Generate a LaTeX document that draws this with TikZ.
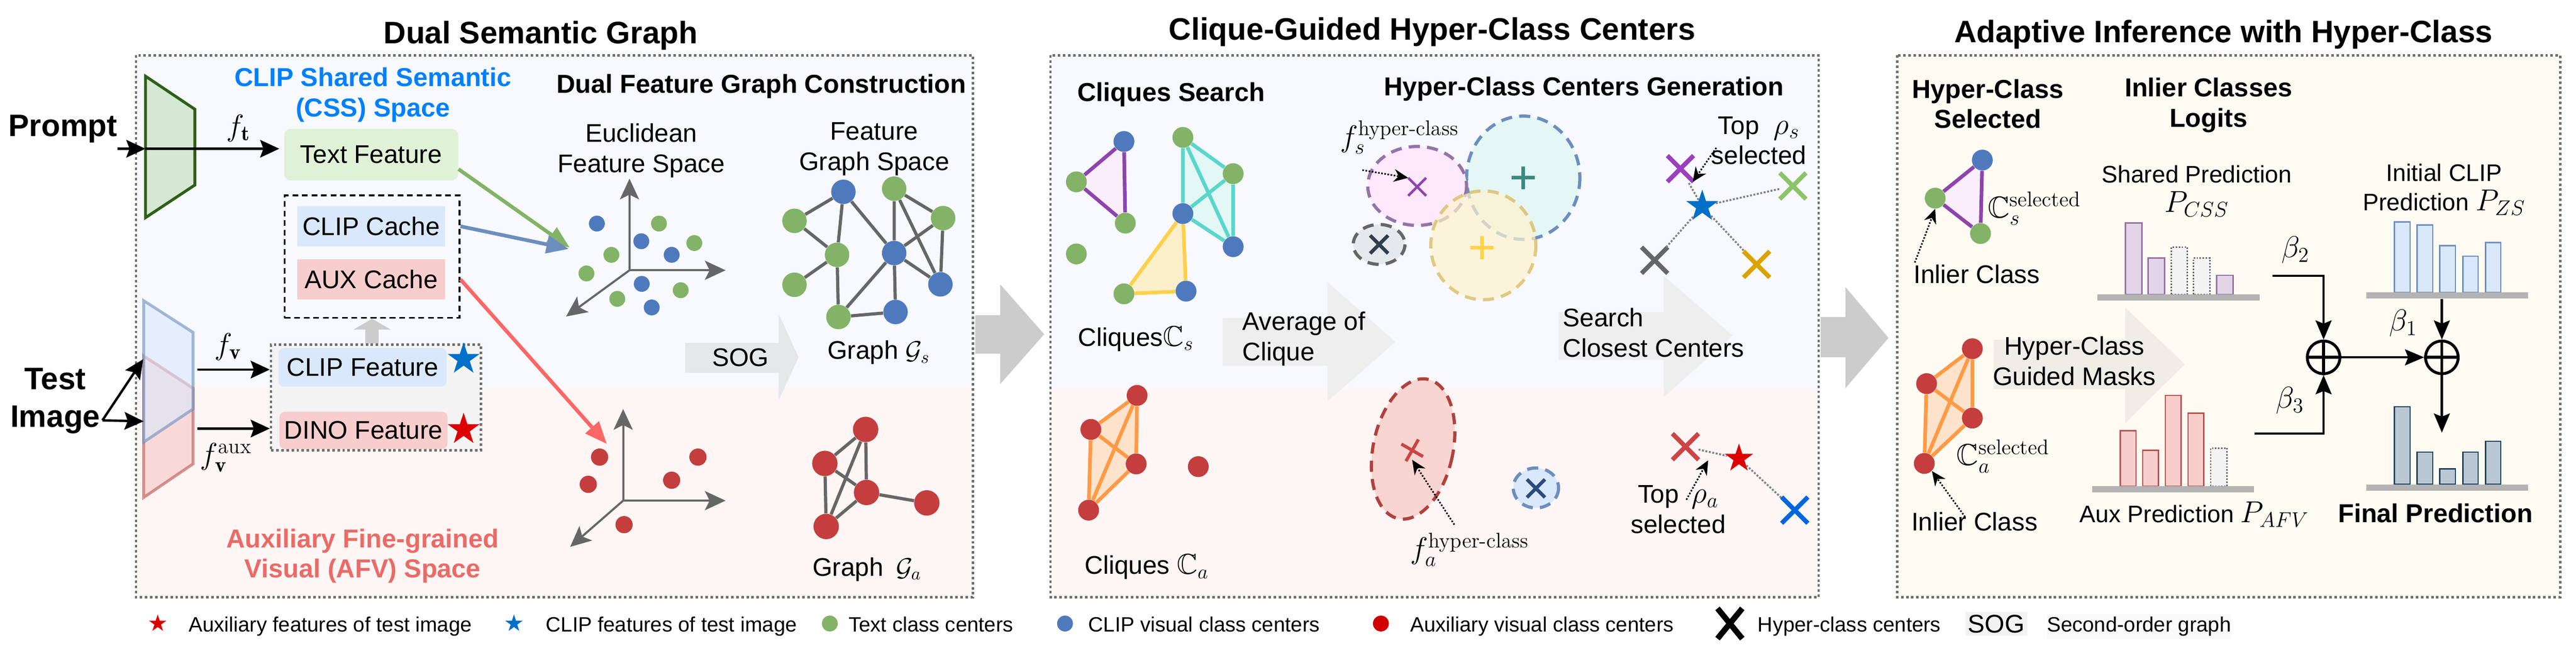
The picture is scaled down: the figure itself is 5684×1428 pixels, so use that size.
\RequirePackage{fix-cm}
\documentclass[tikz,border=0pt]{standalone}
\usepackage{amsmath}
\usepackage{amssymb}
\usepackage{fontspec}
\setsansfont{Liberation Sans}
\usetikzlibrary{arrows.meta,shapes.geometric,shapes.misc}
\pgfdeclarelayer{bg}
\pgfdeclarelayer{back}
\pgfsetlayers{bg,back,main}
\definecolor{upbg}{HTML}{F7F9FE}
\definecolor{lowbg}{HTML}{FEF5F5}
\definecolor{creambg}{HTML}{FEFCF2}
\definecolor{panelgray}{HTML}{6F6F6F}
\definecolor{cssblue}{HTML}{0080FF}
\definecolor{afvred}{HTML}{EA6B66}
\definecolor{textgreen}{HTML}{DFF2D7}
\definecolor{clipblue}{HTML}{DAE8FC}
\definecolor{auxred}{HTML}{F8CECC}
\definecolor{featgray}{HTML}{F4F4F4}
\definecolor{encgreen}{HTML}{D5E8D4}
\definecolor{encgreenline}{HTML}{2D6016}
\definecolor{encblueline}{HTML}{6C8EBF}
\definecolor{encredline}{HTML}{B85450}
\definecolor{dotgreen}{HTML}{82B366}
\definecolor{dotblue}{HTML}{4E7ABD}
\definecolor{dotred}{HTML}{C43E3E}
\definecolor{edgegray}{HTML}{666666}
\definecolor{arrblue}{HTML}{6C8EBF}
\definecolor{arrred}{HTML}{FF6666}
\definecolor{starblue}{HTML}{0070C8}
\definecolor{starred}{HTML}{DD0000}
\definecolor{cqpurple}{HTML}{8E44AD}
\definecolor{cqcyan}{HTML}{5BD6CB}
\definecolor{cqyellow}{HTML}{FFD04A}
\definecolor{cqorange}{HTML}{FF9A45}
\definecolor{fillpurple}{HTML}{FBEEFC}
\definecolor{fillcyan}{HTML}{E3F7F5}
\definecolor{fillyellow}{HTML}{FCF0CB}
\definecolor{fillorange}{HTML}{FDE3CB}
\definecolor{ellpurple}{HTML}{9673A6}
\definecolor{ellpurplefill}{HTML}{FDE9FB}
\definecolor{ellcyanfill}{HTML}{E4F7F5}
\definecolor{ellyellow}{HTML}{D6B656}
\definecolor{ellyellowfill}{HTML}{FFF2CC}
\definecolor{ellgrayfill}{HTML}{E5E8EC}
\definecolor{ellred}{HTML}{B0413E}
\definecolor{ellredfill}{HTML}{F8D5D0}
\definecolor{xpurple}{HTML}{9B3FBE}
\definecolor{xgreen}{HTML}{8CC36A}
\definecolor{xorange}{HTML}{DBA300}
\definecolor{xteal}{HTML}{3A8A80}
\definecolor{xyellow}{HTML}{FFD34E}
\definecolor{xnavy}{HTML}{2F3D4C}
\definecolor{xdarkblue}{HTML}{2B4A80}
\definecolor{xred}{HTML}{CC4444}
\definecolor{xblue}{HTML}{0066DD}
\definecolor{fatgray}{HTML}{EEEEEE}
\definecolor{soggray}{HTML}{E6E7E9}
\definecolor{maskgray}{HTML}{EFEDE6}
\definecolor{biggray}{HTML}{CCCCCC}
\definecolor{basegray}{HTML}{B3B3B3}
\definecolor{cssfill}{HTML}{E1D5E7}
\definecolor{zsfill}{HTML}{DAE8FC}
\definecolor{zsline}{HTML}{6C8EBF}
\definecolor{afvfill}{HTML}{F8CECC}
\definecolor{afvline}{HTML}{B85450}
\definecolor{finfill}{HTML}{BAC8D3}
\definecolor{finline}{HTML}{23445D}
\definecolor{legred}{HTML}{D00000}
\definecolor{legbox}{HTML}{F2F2F2}
\definecolor{leglight}{HTML}{FAFAFA}
\tikzset{
    titletext/.style={font=\sffamily\bfseries\fontsize{19.5}{23.4}\selectfont, inner sep=0pt, align=center},
    subhead/.style={font=\sffamily\bfseries\fontsize{16.3}{19}\selectfont, inner sep=0pt, align=center},
    plaintext/.style={font=\sffamily\fontsize{16}{19}\selectfont, inner sep=0pt, align=center},
    smalltext/.style={font=\sffamily\fontsize{15}{18.5}\selectfont, inner sep=0pt, align=center},
    legtext/.style={font=\sffamily\fontsize{13}{15}\selectfont, inner sep=0pt, anchor=base west},
    mathlabel/.style={font=\fontsize{19}{22}\selectfont, inner sep=0pt},
    panelbox/.style={draw=panelgray, line width=1.5pt, dash pattern=on 1.6pt off 1.6pt},
    featbox/.style={fill=featgray, draw=panelgray, line width=1.5pt, dash pattern=on 1.6pt off 1.6pt},
    cachebox/.style={draw=black, line width=1.1pt, dash pattern=on 3.6pt off 2.4pt},
    blkarrow/.style={line width=1.5pt, -{Stealth[length=12pt,width=11pt,inset=2pt]}},
    colarrow/.style={line width=2.3pt, -{Triangle[length=14pt,width=11pt]}},
    axisarrow/.style={draw=edgegray, line width=1.3pt, -{Stealth[length=13pt,width=12pt,inset=3pt]}},
    uparrow/.style={draw=biggray, line width=3mm, -{Triangle[length=2.4mm,width=8.2mm]}},
    graphedge/.style={draw=edgegray, line width=2pt},
    dotg/.style={circle, fill=dotgreen, inner sep=0pt, minimum size=3.5mm},
    dotb/.style={circle, fill=dotblue, inner sep=0pt, minimum size=3.5mm},
    dotr/.style={circle, fill=dotred, inner sep=0pt, minimum size=3.8mm},
    graphsize/.style={minimum size=5.4mm},
    cliquesize/.style={minimum size=4.6mm},
    cliqueedge/.style={line width=2.3pt},
    linkdot/.style={draw=gray, line width=1.2pt, densely dotted},
    ptrarrow/.style={line width=1pt, densely dotted, -{Stealth[length=9pt,width=8pt]}},
    betaarrow/.style={line width=1.5pt, -{Stealth[length=12pt,width=10pt,inset=2pt]}},
    xmark/.style={cross out, draw=#1, line width=2.8pt, minimum size=4.8mm, inner sep=0pt},
    plusmark/.style={cross out, draw=#1, rotate=45, line width=2.2pt, minimum size=2.8mm, inner sep=0pt},
    bluestar/.style={star, star points=5, star point ratio=2.6, fill=starblue, inner sep=0pt, minimum size=7.4mm},
    redstar/.style={star, star points=5, star point ratio=2.6, fill=starred, inner sep=0pt, minimum size=7.4mm},
    basebar/.style={fill=basegray, inner sep=0pt, minimum height=1.35mm},
    cssbar/.style={fill=cssfill, draw=ellpurple, line width=0.9pt},
    zsbar/.style={fill=zsfill, draw=zsline, line width=0.9pt},
    afvbar/.style={fill=afvfill, draw=afvline, line width=0.9pt},
    finbar/.style={fill=finfill, draw=finline, line width=0.9pt},
    maskbar/.style={fill=featgray, draw=edgegray, line width=0.9pt, densely dotted},
    oplusnode/.style={circle, draw, line width=1.8pt, minimum size=7.2mm, inner sep=0pt},
    elldash/.style={line width=2pt, dash pattern=on 7pt off 4.5pt},
}
\begin{document}
\begin{tikzpicture}[x=0.1mm, y=-0.1mm]
        \useasboundingbox (0,0) rectangle (5684,1428);
        %draw panel backgrounds and borders
        \begin{pgfonlayer}{bg}
            \fill[upbg] (300,122) rectangle (2147,856);
            \fill[lowbg] (300,856) rectangle (2147,1317);
            \draw[panelbox] (300,122) rectangle (2147,1317);
            \fill[upbg] (2318,122) rectangle (4013,858);
            \fill[lowbg] (2318,858) rectangle (4013,1317);
            \draw[panelbox] (2318,122) rectangle (4013,1317);
            \fill[creambg] (4186,122) rectangle (5649,1317);
            \draw[panelbox] (4186,122) rectangle (5649,1317);
        \end{pgfonlayer}
        %panel titles
        \node[titletext, anchor=base] (tdual) at (1193,96) {Dual Semantic Graph};
        \node[titletext, anchor=base] (tclique) at (3160,88) {Clique-Guided Hyper-Class Centers};
        \node[titletext, anchor=base] (tadapt) at (4906,94) {Adaptive Inference with Hyper-Class};
        %draw big arrows between panels
        \fill[biggray] (2152,695) -- (2207,695) -- (2207,627) -- (2304,737) -- (2207,847) -- (2207,780) -- (2152,780) -- cycle;
        \fill[biggray] (4017,699) -- (4072,699) -- (4072,633) -- (4167,745) -- (4072,856) -- (4072,788) -- (4017,788) -- cycle;

        %draw text and image encoders
        \fill[encgreen, draw=encgreenline, line width=1.8pt] (321,168) -- (430,241) -- (430,408) -- (321,480) -- cycle;
        \fill[auxred, fill opacity=0.7, draw=encredline, draw opacity=0.6, line width=1.8pt] (317,785) -- (426,856) -- (426,1023) -- (317,1097) -- cycle;
        \fill[clipblue, fill opacity=0.6, draw=encblueline, draw opacity=0.6, line width=1.8pt] (317,663) -- (426,733) -- (426,902) -- (317,975) -- cycle;
        %inputs
        \node[titletext, anchor=base] (prompt) at (139,301) {Prompt};
        \node[titletext] (timg) at (122,884) {Test\\Image};
        \coordinate (tenc) at (321,328);
        \coordinate (iin) at (226,927);
        \coordinate (ienca) at (316,792);
        \coordinate (iencb) at (317,929);
        \draw[blkarrow] (prompt.east |- tenc) -- (tenc);
        \draw[blkarrow] (iin) -- (ienca);
        \draw[blkarrow] (iin) -- (iencb);
        %CSS space: text feature and caches
        \node[subhead, text=cssblue] (csshead) at (823,209) {CLIP Shared Semantic\\(CSS) Space};
        \node[plaintext, fill=textgreen, rounded corners=1.5mm, minimum width=38.4mm, minimum height=11.4mm] (textf) at (819,341) {Text Feature};
        \draw[blkarrow, shorten >=1mm] (tenc) -- (tenc -| textf.west);
        \node[mathlabel] (ft) at (526,283) {$f_{\mathbf{t}}$};
        \node[cachebox, minimum width=38.6mm, minimum height=27mm] (cache) at (821,566) {};
        \node[plaintext, fill=clipblue, minimum width=32.6mm, minimum height=8.9mm] (clipc) at (819,499) {CLIP Cache};
        \node[plaintext, fill=auxred, minimum width=32.6mm, minimum height=8.8mm] (auxc) at (819,616) {AUX Cache};
        %image features
        \node[featbox, minimum width=46.3mm, minimum height=23.3mm] (featb) at (829.5,876.5) {};
        \node[plaintext, fill=clipblue, rounded corners=1.2mm, minimum width=37.1mm, minimum height=8.5mm] (clipf) at (800,810) {CLIP Feature};
        \node[plaintext, fill=auxred, rounded corners=1.2mm, minimum width=37.1mm, minimum height=8.2mm] (dinof) at (802,949) {DINO Feature};
        \node[bluestar] (sblue) at (1023,792) {};
        \node[redstar] (sred) at (1023,947) {};
        \draw[uparrow] (cache.south |- featb.north) -- (cache.south);
        \coordinate (venca) at (435,815);
        \coordinate (vencb) at (435,945);
        \draw[blkarrow] (venca) -- (venca -| featb.west);
        \draw[blkarrow] (vencb) -- (vencb -| featb.west);
        \node[mathlabel] (fv) at (503,765) {$f_{\mathbf{v}}$};
        \node[mathlabel] (fva) at (499,1009) {$f_{\mathbf{v}}^{\mathrm{aux}}$};
        \node[subhead, text=afvred] (afvhead) at (800,1226) {Auxiliary Fine-grained\\Visual (AFV) Space};

        %dual feature graph construction
        \node[subhead, anchor=base] (dfgc) at (1680,205) {Dual Feature Graph Construction};
        \node[plaintext] (eucl) at (1415,332) {Euclidean\\Feature Space};
        \node[plaintext] (fgsp) at (1929,329) {Feature\\Graph Space};
        %draw euclidean axes
        \coordinate (oa) at (1389,596);
        \coordinate (oau) at (1389,394);
        \coordinate (oar) at (1601,596);
        \coordinate (oad) at (1249,698);
        \draw[axisarrow] (oa) -- (oau);
        \draw[axisarrow] (oa) -- (oar);
        \draw[axisarrow] (oa) -- (oad);
        \coordinate (ob) at (1375,1104);
        \coordinate (obu) at (1375,902);
        \coordinate (obr) at (1601,1104);
        \coordinate (obd) at (1258,1206);
        \draw[axisarrow] (ob) -- (obu);
        \draw[axisarrow] (ob) -- (obr);
        \draw[axisarrow] (ob) -- (obd);
        %class centers in euclidean space
        \node[dotb] (eb1) at (1317,493) {};
        \node[dotb] (eb2) at (1415,532) {};
        \node[dotb] (eb3) at (1482,562) {};
        \node[dotb] (eb4) at (1416,626) {};
        \node[dotb] (eb5) at (1438,678) {};
        \node[dotg] (eg1) at (1454,493) {};
        \node[dotg] (eg2) at (1532,536) {};
        \node[dotg] (eg3) at (1349,562) {};
        \node[dotg] (eg4) at (1294,603) {};
        \node[dotg] (eg5) at (1502,640) {};
        \node[dotg] (eg6) at (1362,659) {};
        \node[dotr] (er1) at (1323,1008) {};
        \node[dotr] (er2) at (1540,1008) {};
        \node[dotr] (er3) at (1298,1068) {};
        \node[dotr] (er4) at (1482,1059) {};
        \node[dotr] (er5) at (1377,1157) {};
        %arrows into euclidean space
        \coordinate (eua) at (1257,546);
        \coordinate (eub) at (1255,549);
        \coordinate (euc) at (1339,979);
        \draw[colarrow, draw=dotgreen] ([yshift=-3.2mm]textf.east) -- (eua);
        \draw[colarrow, draw=arrblue] (cache.east |- clipc) -- (eub);
        \draw[colarrow, draw=arrred] (cache.east |- auxc) -- (euc);
        %SOG arrow
        \fill[soggray] (1512,756) -- (1718,756) -- (1718,692) -- (1762,788) -- (1718,883) -- (1718,822) -- (1512,822) -- cycle;
        \node[plaintext] (sog) at (1634,788) {SOG};
        %graph G_s
        \node[dotb, graphsize] (gb1) at (1861,423) {};
        \node[dotg, graphsize] (gg1) at (1973,416) {};
        \node[dotg, graphsize] (gg2) at (1753,487) {};
        \node[dotg, graphsize] (gg3) at (2081,481) {};
        \node[dotg, graphsize] (gg4) at (1847,562) {};
        \node[dotb, graphsize] (gb2) at (1973,558) {};
        \node[dotg, graphsize] (gg5) at (1753,628) {};
        \node[dotb, graphsize] (gb3) at (2075,627) {};
        \node[dotg, graphsize] (gg6) at (1850,699) {};
        \node[dotb, graphsize] (gb4) at (1976,688) {};
        \draw[graphedge] (gb1) -- (gg2) (gg2) -- (gg4) (gg4) -- (gg5) (gb1) -- (gg4) (gb1) -- (gb2)
            (gg1) -- (gb2) (gg1) -- (gg3) (gg1) -- (gb3) (gg3) -- (gb2) (gg3) -- (gb3) (gb2) -- (gb3)
            (gb2) -- (gg6) (gb2) -- (gb4) (gg4) -- (gg6) (gg6) -- (gb4);
        \node[plaintext, anchor=base] (gslabel) at (1939,792) {Graph $\mathcal{G}_s$};
        %graph G_a
        \node[dotr, minimum size=5.6mm] (ga1) at (1910,947) {};
        \node[dotr, minimum size=5.6mm] (ga2) at (1820,1022) {};
        \node[dotr, minimum size=5.6mm] (ga3) at (1912,1086) {};
        \node[dotr, minimum size=5.6mm] (ga4) at (2045,1109) {};
        \node[dotr, minimum size=5.6mm] (ga5) at (1823,1161) {};
        \draw[graphedge] (ga1) -- (ga2) (ga1) -- (ga3) (ga1) -- (ga5) (ga2) -- (ga3) (ga2) -- (ga5) (ga3) -- (ga5) (ga3) -- (ga4);
        \node[plaintext, anchor=base] (galabel) at (1913,1270) {Graph\enspace$\mathcal{G}_a$};

        %cliques search
        \node[subhead, anchor=base] (csearch) at (2584,223) {Cliques Search};
        \node[dotb, cliquesize] (pb) at (2480,312) {};
        \node[dotg, cliquesize] (pga) at (2375,401) {};
        \node[dotg, cliquesize] (pgb) at (2483,492) {};
        \node[dotg, cliquesize] (lone) at (2375,560) {};
        \node[dotg, cliquesize] (cga) at (2610,303) {};
        \node[dotg, cliquesize] (cgb) at (2721,383) {};
        \node[dotb, cliquesize] (cba) at (2610,471) {};
        \node[dotb, cliquesize] (cbb) at (2721,544) {};
        \node[dotg, cliquesize] (yg) at (2480,648) {};
        \node[dotb, cliquesize] (yb) at (2617,642) {};
        \node[dotr, cliquesize] (oa1) at (2509,872) {};
        \node[dotr, cliquesize] (oa2) at (2407,947) {};
        \node[dotr, cliquesize] (oa3) at (2507,1023) {};
        \node[dotr, cliquesize] (oa4) at (2402,1125) {};
        \node[dotr, cliquesize] (lonered) at (2644,1029) {};
        \begin{pgfonlayer}{back}
            \fill[fillpurple] (pb.center) -- (pga.center) -- (pgb.center) -- cycle;
            \fill[fillcyan] (cga.center) -- (cgb.center) -- (cbb.center) -- (cba.center) -- cycle;
            \fill[fillyellow] (cba.center) -- (yb.center) -- (yg.center) -- cycle;
            \fill[fillorange] (oa1.center) -- (oa3.center) -- (oa4.center) -- (oa2.center) -- cycle;
        \end{pgfonlayer}
        \draw[cliqueedge, cqpurple] (pb) -- (pga) (pga) -- (pgb) (pgb) -- (pb);
        \draw[cliqueedge, cqcyan] (cga) -- (cgb) (cga) -- (cba) (cga) -- (cbb) (cgb) -- (cba) (cgb) -- (cbb) (cba) -- (cbb);
        \draw[cliqueedge, cqyellow] (cba) -- (yg) (cba) -- (yb) (yg) -- (yb);
        \draw[cliqueedge, cqorange] (oa1) -- (oa2) (oa1) -- (oa3) (oa1) -- (oa4) (oa2) -- (oa3) (oa2) -- (oa4) (oa3) -- (oa4);
        \node[plaintext, anchor=base west] (clsl) at (2378,763) {Cliques{\fontsize{18}{18}\selectfont$\mathbb{C}_s$}};
        \node[plaintext, anchor=base west] (clal) at (2393,1266) {Cliques {\fontsize{18}{18}\selectfont$\mathbb{C}_a$}};
        %average of clique arrow
        \fill[fatgray] (2698,701) -- (2929,701) -- (2929,622) -- (3079,754) -- (2929,885) -- (2929,806) -- (2698,806) -- cycle;
        \node[plaintext, align=left, anchor=west] (avg) at (2741,747) {Average of\\Clique};

        %hyper-class centers generation
        \node[subhead, anchor=base] (hccg) at (3495,211) {Hyper-Class Centers Generation};
        \draw[elldash, draw=encblueline, fill=ellcyanfill] (3361,392) ellipse [x radius=125, y radius=136];
        \draw[elldash, draw=ellpurple, fill=ellpurplefill] (3127,410) ellipse [x radius=109, y radius=87];
        \draw[elldash, draw=ellyellow, fill=ellyellowfill, opacity=0.7] (3273,541) ellipse [x radius=116, y radius=120];
        \draw[elldash, draw=edgegray, fill=ellgrayfill] (3043,539) ellipse [x radius=57, y radius=44];
        \node[xmark=cqpurple, line width=1.6pt, minimum size=3.4mm] (hxs) at (3127,412) {};
        \node[plusmark=xteal] (hxc) at (3361,392) {};
        \node[plusmark=xyellow] (hxy) at (3270,546) {};
        \node[xmark=xnavy, line width=2.2pt, minimum size=3.2mm] (hxg) at (3043,539) {};
        \node[mathlabel] (fsh) at (3088,303) {$f_s^{\textrm{hyper-class}}$};
        \coordinate (fsp) at (3006,375);
        \draw[ptrarrow] (fsp) -- (hxs.north west);
        %closest centers for CLIP feature
        \node[bluestar] (stc) at (3756,455) {};
        \node[xmark=xpurple] (xp) at (3708,372) {};
        \node[xmark=xgreen] (xg) at (3956,410) {};
        \node[xmark=edgegray] (xk) at (3651,574) {};
        \node[xmark=xorange] (xo) at (3876,583) {};
        \draw[linkdot] (stc) -- (xp);
        \draw[linkdot] (stc) -- (xg);
        \draw[linkdot] (stc) -- (xk);
        \draw[linkdot] (stc) -- (xo);
        \node[plaintext] (tops) at (3881,310) {Top\hspace{3.2mm}{\fontsize{19}{19}\selectfont$\rho_s$}\\selected};
        \coordinate (tpsa) at (3787,326);
        \coordinate (tpsb) at (3735,401);
        \draw[ptrarrow] (tpsa) -- (tpsb);
        %search closest centers arrow
        \fill[fatgray] (3439,688) -- (3671,688) -- (3671,608) -- (3823,740) -- (3671,876) -- (3671,794) -- (3439,794) -- cycle;
        \node[plaintext, align=left, anchor=west] (srch) at (3448,734) {Search\\Closest Centers};
        %auxiliary hyper-class centers
        \draw[elldash, draw=ellred, fill=ellredfill, rotate around={-12:(3118,990)}] (3118,990) ellipse [x radius=88, y radius=157];
        \draw[elldash, draw=encblueline, fill=clipblue] (3389,1076) ellipse [x radius=50, y radius=44];
        \node[xmark=xred, rotate=15, line width=2pt, minimum size=3.2mm] (hxa) at (3116,993) {};
        \node[xmark=xdarkblue, line width=2.2pt, minimum size=3.2mm] (hxb) at (3389,1077) {};
        \node[mathlabel] (fah) at (3243,1212) {$f_a^{\textrm{hyper-class}}$};
        \coordinate (fap) at (3209,1157);
        \coordinate (fapt) at (3116,1014);
        \draw[ptrarrow] (fap) -- (fapt);
        %closest centers for auxiliary feature
        \node[xmark=xred] (xr) at (3719,985) {};
        \node[redstar, minimum size=6.6mm] (str) at (3837,1011) {};
        \node[xmark=xblue] (xb) at (3960,1125) {};
        \draw[linkdot] (xr) -- (str);
        \draw[linkdot] (str) -- (xb);
        \node[plaintext] (topa) at (3703,1123) {Top\hspace{2.8mm}{\fontsize{19}{19}\selectfont$\rho_a$}\\selected};
        \coordinate (tpaa) at (3721,1102);
        \coordinate (tpab) at (3769,1015);
        \draw[ptrarrow] (tpaa) -- (tpab);

        %adaptive inference panel
        \node[subhead] (hcsel) at (4386,229) {Hyper-Class\\Selected};
        \node[subhead] (inlog) at (4873,232) {Inlier Classes\\Logits};
        \node[dotb, cliquesize] (sb) at (4374,353) {};
        \node[dotg, cliquesize] (sga) at (4270,437) {};
        \node[dotg, cliquesize] (sgb) at (4370,515) {};
        \node[dotr, cliquesize] (so1) at (4352,769) {};
        \node[dotr, cliquesize] (so2) at (4251,846) {};
        \node[dotr, cliquesize] (so3) at (4352,922) {};
        \node[dotr, cliquesize] (so4) at (4246,1022) {};
        \begin{pgfonlayer}{back}
            \fill[fillpurple] (sb.center) -- (sga.center) -- (sgb.center) -- cycle;
            \fill[fillorange] (so1.center) -- (so3.center) -- (so4.center) -- (so2.center) -- cycle;
        \end{pgfonlayer}
        \draw[cliqueedge, cqpurple] (sb) -- (sga) (sga) -- (sgb) (sgb) -- (sb);
        \draw[cliqueedge, cqorange] (so1) -- (so2) (so1) -- (so3) (so1) -- (so4) (so2) -- (so3) (so2) -- (so4) (so3) -- (so4);
        \node[mathlabel] (cssel) at (4489,460) {$\mathbb{C}_s^{\textrm{selected}}$};
        \node[mathlabel] (casel) at (4420,1006) {$\mathbb{C}_a^{\textrm{selected}}$};
        \node[plaintext, anchor=base west] (inla) at (4222,625) {Inlier Class};
        \node[plaintext, anchor=base west] (inlb) at (4217,1170) {Inlier Class};
        \coordinate (inlap) at (4225,579);
        \coordinate (inlbp) at (4336,1140);
        \draw[ptrarrow] (inlap) -- (sga.south);
        \draw[ptrarrow] (inlbp) -- (so4.south east);
        %guided masks arrow
        \fill[maskgray] (4399,749) -- (4689,749) -- (4689,678) -- (4821,803) -- (4689,934) -- (4689,858) -- (4399,858) -- cycle;
        \node[plaintext] (masks) at (4577,796) {Hyper-Class\\Guided Masks};
        %shared prediction bars
        \node[smalltext] (pcss) at (4847,421) {Shared Prediction\\{\fontsize{19}{22}\selectfont$P_{CSS}$}};
        \draw[cssbar] (4690,649) rectangle (4726,492);
        \draw[cssbar] (4740,649) rectangle (4776,569);
        \draw[maskbar] (4791,649) rectangle (4826,545);
        \draw[maskbar] (4840,649) rectangle (4876,569);
        \draw[cssbar] (4891,649) rectangle (4927,607);
        \node[basebar, minimum width=35.8mm] (cssbase) at (4807,655.5) {};
        %initial CLIP prediction bars
        \node[smalltext] (pzs) at (5393,418) {Initial CLIP\\Prediction {\fontsize{19}{22}\selectfont$P_{ZS}$}};
        \draw[zsbar] (5283,645) rectangle (5318,489);
        \draw[zsbar] (5333,645) rectangle (5368,496);
        \draw[zsbar] (5383,645) rectangle (5418,542);
        \draw[zsbar] (5434,645) rectangle (5468,565);
        \draw[zsbar] (5484,645) rectangle (5518,535);
        \node[basebar, minimum width=35.7mm] (zsbase) at (5399.5,651.5) {};
        %aux prediction bars
        \draw[afvbar] (4678,1072) rectangle (4713,950);
        \draw[afvbar] (4728,1072) rectangle (4763,993);
        \draw[afvbar] (4778,1072) rectangle (4813,872);
        \draw[afvbar] (4828,1072) rectangle (4863,911);
        \draw[maskbar] (4878,1072) rectangle (4914,988);
        \node[basebar, minimum width=35.7mm] (afvbase) at (4794.5,1079) {};
        \node[smalltext, anchor=base] (pafv) at (4842,1152) {Aux Prediction {\fontsize{19}{22}\selectfont$P_{AFV}$}};
        %final prediction bars
        \draw[finbar] (5283,1068) rectangle (5318,897);
        \draw[finbar] (5333,1068) rectangle (5368,997);
        \draw[finbar] (5383,1068) rectangle (5418,1034);
        \draw[finbar] (5434,1068) rectangle (5468,997);
        \draw[finbar] (5484,1068) rectangle (5518,973);
        \node[basebar, minimum width=35.7mm] (finbase) at (5399.5,1075) {};
        \node[subhead, anchor=base] (finp) at (5374,1152) {Final Prediction};
        %weighted sums
        \node[oplusnode] (opl) at (5127,788) {};
        \node[oplusnode] (opr) at (5388,788) {};
        \draw[line width=1.8pt] (opl.north) -- (opl.south) (opl.west) -- (opl.east);
        \draw[line width=1.8pt] (opr.north) -- (opr.south) (opr.west) -- (opr.east);
        \coordinate (btwo) at (5014,608);
        \coordinate (bthree) at (4975,956);
        \coordinate (fintip) at (5388,954);
        \draw[betaarrow] (btwo) -| (opl.north);
        \draw[betaarrow] (bthree) -| (opl.south);
        \draw[betaarrow] (opl.east) -- (opr.west);
        \draw[betaarrow] (zsbase.south -| opr.north) -- (opr.north);
        \draw[betaarrow] (opr.south) -- (fintip);
        \node[mathlabel] (bt2) at (5065,551) {$\beta_2$};
        \node[mathlabel] (bt1) at (5303,713) {$\beta_1$};
        \node[mathlabel] (bt3) at (5053,883) {$\beta_3$};

        %legend
        \node[redstar, minimum size=4mm] (lgstr) at (348,1375) {};
        \node[legtext] (lgtr) at (416,1393) {Auxiliary features of test image};
        \node[bluestar, minimum size=4mm] (lgstb) at (1134,1375) {};
        \node[legtext] (lgtb) at (1204,1393) {CLIP features of test image};
        \node[dotg] (lgdg) at (1831,1375) {};
        \node[legtext] (lgtg) at (1872,1393) {Text class centers};
        \node[dotb] (lgdb) at (2350,1375) {};
        \node[legtext] (lgtv) at (2401,1393) {CLIP visual class centers};
        \node[dotr, fill=legred, minimum size=3.5mm] (lgdr) at (3047,1375) {};
        \node[legtext] (lgta) at (3111,1393) {Auxiliary visual class centers};
        \node[cross out, draw, line width=3.6pt, minimum width=4.2mm, minimum height=5.4mm, inner sep=0pt] (lgx) at (3817,1375) {};
        \node[legtext] (lgtx) at (3878,1393) {Hyper-class centers};
        \node[plaintext, fill=legbox, inner sep=0.6mm, anchor=base] (lgsog) at (4405,1395) {SOG};
        \node[legtext, fill=leglight, inner ysep=0.6mm] (lgts) at (4516,1393) {Second-order graph};
    \end{tikzpicture}
\end{document}
